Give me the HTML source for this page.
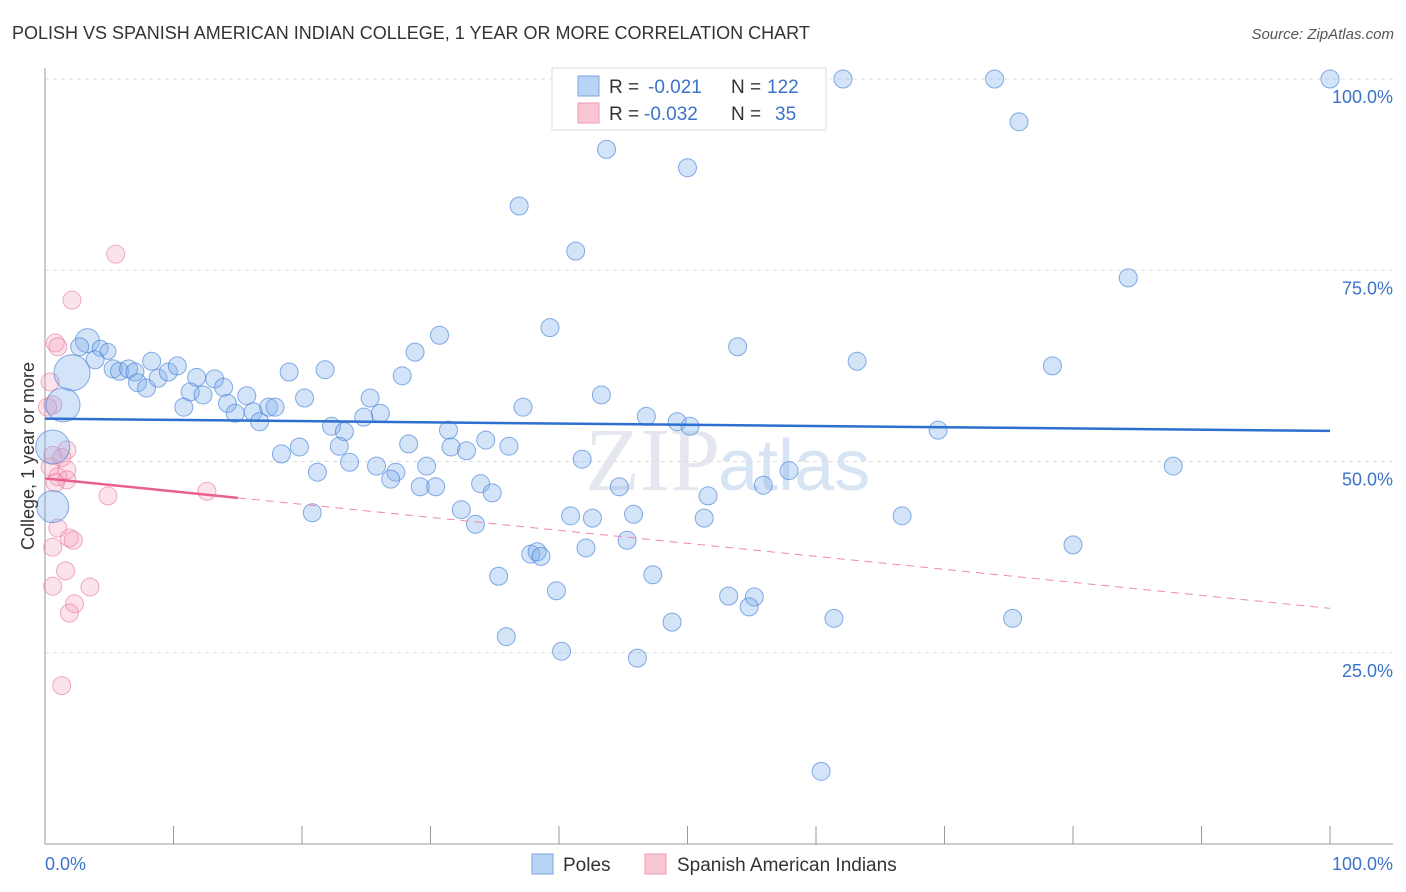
<!DOCTYPE html>
<html><head><meta charset="utf-8"><style>
body{margin:0;background:#fff;font-family:"Liberation Sans",sans-serif;}
svg{display:block}
</style></head><body>
<svg id="chart" width="1406" height="892">
<text x="12" y="39" font-size="18" fill="#333">POLISH VS SPANISH AMERICAN INDIAN COLLEGE, 1 YEAR OR MORE CORRELATION CHART</text>
<text x="1394" y="39" font-size="15" fill="#555" font-style="italic" text-anchor="end">Source: ZipAtlas.com</text>
<text x="720" y="490" font-size="90" fill="#e4e8ee" font-family="Liberation Serif" text-anchor="end">ZIP</text>
<text x="718" y="490" font-size="72" fill="#d6e4f4">atlas</text>
<g id="grid"></g><g id="axes"></g><g id="pts"></g><g id="trend"></g>
<text transform="translate(34,456) rotate(-90)" font-size="18" fill="#333" text-anchor="middle">College, 1 year or more</text>
<g>
<rect x="552" y="68" width="274" height="62" fill="#fff" stroke="#ddd"/>
<rect x="578" y="76" width="21" height="20" fill="#b9d3f5" stroke="#7aa5e0"/>
<rect x="578" y="103" width="21" height="20" fill="#f9c6d4" stroke="#ec9ab4"/>
<text x="609" y="93" font-size="19" fill="#333">R = </text><text x="648" y="93" font-size="19" fill="#3b73c9">-0.021</text>
<text x="731" y="93" font-size="19" fill="#333">N = </text><text x="767" y="93" font-size="19" fill="#3b73c9">122</text>
<text x="609" y="120" font-size="19" fill="#333">R = </text><text x="644" y="120" font-size="19" fill="#3b73c9">-0.032</text>
<text x="731" y="120" font-size="19" fill="#333">N = </text><text x="775" y="120" font-size="19" fill="#3b73c9">35</text>
</g>
<g>
<rect x="532" y="854" width="21" height="20" fill="#b9d3f5" stroke="#7aa5e0"/>
<text x="563" y="871" font-size="19" fill="#333">Poles</text>
<rect x="645" y="854" width="21" height="20" fill="#f9c6d4" stroke="#ec9ab4"/>
<text x="677" y="871" font-size="19" fill="#333">Spanish American Indians</text>
</g>
</svg>
<script>
const blueX=[47.9,54.3,62.1,73.9,100,75.8,43.7,50.0,36.9,41.3,84.3,30.7,39.3,53.9,63.2,78.4,28.8,27.8,21.8,19.0,25.3,20.2,43.3,37.2,26.1,24.8,46.8,49.2,50.2,69.5,22.3,31.4,23.3,34.3,28.3,36.1,19.8,22.9,31.6,32.8,18.4,41.8,23.7,25.8,29.7,57.9,87.8,21.2,27.3,26.9,33.9,29.2,30.4,44.7,55.9,34.8,51.6,32.4,20.8,45.8,40.9,42.6,51.3,66.7,33.5,45.3,80.0,42.1,37.8,38.3,38.6,35.3,47.3,39.8,53.2,55.2,54.8,61.4,75.3,48.8,35.9,40.2,46.1,60.4,3.3,2.7,4.3,4.9,3.9,2.1,1.4,5.3,5.8,6.5,7.0,8.3,7.2,7.9,8.8,9.6,10.3,11.8,13.2,13.9,11.3,12.3,10.8,14.2,14.8,15.7,16.2,17.4,17.9,16.7,0.6,0.6];
const blueY=[100,100,100,100,100,94.4,90.8,88.4,83.4,77.5,74.0,66.5,67.5,65.0,63.1,62.5,64.3,61.2,62.0,61.7,58.3,58.3,58.7,57.1,56.3,55.8,55.9,55.2,54.6,54.1,54.6,54.1,53.9,52.8,52.3,52.0,51.9,52.0,51.9,51.4,51.0,50.3,49.9,49.4,49.4,48.8,49.4,48.6,48.6,47.7,47.1,46.7,46.7,46.7,46.9,45.9,45.5,43.7,43.3,43.1,42.9,42.6,42.6,42.9,41.8,39.7,39.1,38.7,37.9,38.2,37.6,35.0,35.2,33.1,32.4,32.3,31.0,29.5,29.5,29.0,27.1,25.2,24.3,9.5,65.8,65.0,64.8,64.4,63.3,61.6,57.4,62.1,61.8,62.1,61.7,63.1,60.3,59.6,60.9,61.7,62.5,61.0,60.8,59.7,59.1,58.7,57.1,57.6,56.3,58.6,56.5,57.1,57.1,55.2,51.9,44.1];
const blueR=[9,9,9,9,9,9,9,9,9,9,9,9,9,9,9,9,9,9,9,9,9,9,9,9,9,9,9,9,9,9,9,9,9,9,9,9,9,9,9,9,9,9,9,9,9,9,9,9,9,9,9,9,9,9,9,9,9,9,9,9,9,9,9,9,9,9,9,9,9,9,9,9,9,9,9,9,9,9,9,9,9,9,9,9,12,9,8,8,9,18,17,9,9,9,9,9,9,9,9,9,9,9,9,9,9,9,9,9,9,9,9,9,9,9,17,16];
const pinkX=[5.5,2.1,0.8,1.0,0.4,0.6,0.2,1.7,0.6,1.3,0.4,1.7,1.0,1.7,0.8,4.9,12.6,1.0,0.6,1.9,2.2,1.6,0.6,3.5,2.3,1.9,1.3];
const pinkY=[77.1,71.1,65.5,65.0,60.4,57.4,57.1,51.5,50.8,50.5,49.3,48.9,48.0,47.6,47.2,45.5,46.1,41.3,38.8,40.0,39.7,35.7,33.7,33.6,31.4,30.2,20.7];
const trendBlue=[55.6,54.0];
const trendPink=[47.8,30.8];
const pinkSolidEnd=15;
const xTicks=[0,10,20,30,40,50,60,70,80,90,100];
const yGrid=[100,75,50,25];
const yLabels=["100.0%","75.0%","50.0%","25.0%"];
const xs=v=>45+v*12.85, ys=v=>844-v*7.65;
const NS="http://www.w3.org/2000/svg";
function mk(tag,attrs,parent){const e=document.createElementNS(NS,tag);for(const k in attrs)e.setAttribute(k,attrs[k]);document.getElementById(parent).appendChild(e);return e;}
yGrid.forEach((g,i)=>{
 const l=mk('line',{x1:45,x2:1393,y1:ys(g),y2:ys(g),stroke:'#ddd','stroke-dasharray':'4,4'},'grid');
 
 
 const t=mk('text',{x:1393,y:ys(g)+24,'font-size':18,fill:'#3b73c9','text-anchor':'end'},'grid');
 t.textContent=yLabels[i];
 
 
});
const ax=mk('line',{x1:45,x2:45,y1:68,y2:844,stroke:'#999'},'axes');


const bx=mk('line',{x1:45,x2:1393,y1:844,y2:844,stroke:'#999'},'axes');


xTicks.forEach(v=>{const t=mk('line',{x1:xs(v),x2:xs(v),y1:826,y2:844,stroke:'#999'},'axes');
 
 });
const x0=mk('text',{x:45,y:870,'font-size':18,fill:'#3b73c9'},'axes');x0.textContent='0.0%';


const x1=mk('text',{x:1393,y:870,'font-size':18,fill:'#3b73c9','text-anchor':'end'},'axes');x1.textContent='100.0%';


pinkX.forEach((v,i)=>{const c=mk('circle',{cx:xs(v),cy:ys(pinkY[i]),r:9,fill:'rgba(245,160,185,0.3)',stroke:'rgba(230,120,155,0.6)'},'pts');
 
 });
blueX.forEach((v,i)=>{const c=mk('circle',{cx:xs(v),cy:ys(blueY[i]),r:blueR[i],fill:'rgba(130,175,235,0.35)',stroke:'rgba(70,130,215,0.65)'},'pts');
 
 });
const tb=mk('line',{x1:xs(0),x2:xs(100),y1:ys(trendBlue[0]),y2:ys(trendBlue[1]),stroke:'#2f6fd0','stroke-width':2.5},'trend');


const pm=trendPink[0]+(trendPink[1]-trendPink[0])*pinkSolidEnd/100;
const tp=mk('line',{x1:xs(0),x2:xs(pinkSolidEnd),y1:ys(trendPink[0]),y2:ys(pm),stroke:'#e8608c','stroke-width':2.5},'trend');


const td=mk('line',{x1:xs(pinkSolidEnd),x2:xs(100),y1:ys(pm),y2:ys(trendPink[1]),stroke:'#ee8aa8','stroke-width':1,'stroke-dasharray':'8,6'},'trend');


</script>
</body></html>
